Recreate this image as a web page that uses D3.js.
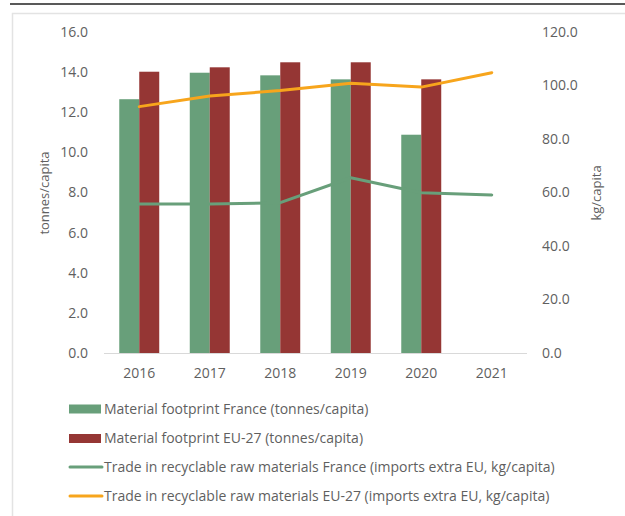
<!DOCTYPE html>
<html><head><meta charset="utf-8">
<script src="https://cdn.jsdelivr.net/npm/d3@7"></script>
<style>
body{margin:0;background:#fff;}
svg{display:block;font-family:"Open Sans",sans-serif;}
</style></head>
<body><svg id="c" width="625" height="516"></svg>
<script>
const years = ["2016","2017","2018","2019","2020","2021"];
const footprintFrance = [12.65, 13.97, 13.84, 13.64, 10.88, null];
const footprintEU = [14.02, 14.24, 14.49, 14.49, 13.64, null];
const tradeFrance = [55.7, 55.7, 56.2, 65.5, 59.9, 59.1];
const tradeEU = [92.1, 96.1, 98.1, 100.8, 99.4, 104.8];
const leftTicks = [0,2,4,6,8,10,12,14,16];
const rightTicks = [0,20,40,60,80,100,120];
const legendLabels = [
  "Material footprint France (tonnes/capita)",
  "Material footprint EU-27 (tonnes/capita)",
  "Trade in recyclable raw materials France (imports extra EU, kg/capita)",
  "Trade in recyclable raw materials EU-27 (imports extra EU, kg/capita)"
];

const GREEN = "#689f7a", RED = "#953634", ORANGE = "#f7a51c", TXT = "#5f5f5f";
const svg = d3.select("#c");

// header line & frame
svg.append("line").attr("x1",10).attr("x2",625).attr("y1",4).attr("y2",4).attr("stroke","#222").attr("stroke-width",1.5);
svg.append("path").attr("d","M12.5,516V13.5H625").attr("fill","none").attr("stroke","#e3e3e3").attr("stroke-width",1.5);

const x = d3.scaleBand().domain(years).range([104,527]).padding(0);
const bw = x.bandwidth();
const groupW = bw*0.567;
const x1 = d3.scaleBand().domain(["fr","eu"]).range([0,groupW]).padding(0);
const yL = d3.scaleLinear().domain([0,16]).range([353,32]);
const yR = d3.scaleLinear().domain([0,120]).range([353,32]);

// baseline
svg.append("line").attr("x1",104).attr("x2",527).attr("y1",353.5).attr("y2",353.5).attr("stroke","#d9d9d9").attr("stroke-width",1);

// bars
const barData = [];
years.forEach((y,i)=>{
  if(footprintFrance[i]!=null) barData.push({y, k:"fr", v:footprintFrance[i]});
  if(footprintEU[i]!=null) barData.push({y, k:"eu", v:footprintEU[i]});
});
svg.append("g").selectAll("rect").data(barData).join("rect")
  .attr("x",d=>x(d.y)+bw/2-groupW/2+x1(d.k))
  .attr("width",x1.bandwidth())
  .attr("y",d=>yL(d.v))
  .attr("height",d=>yL(0)-yL(d.v))
  .attr("fill",d=>d.k==="fr"?GREEN:RED);

// lines
const line = d3.line().x((d,i)=>x(years[i])+bw/2).y(d=>yR(d));
svg.append("path").datum(tradeFrance).attr("d",line).attr("fill","none").attr("stroke",GREEN).attr("stroke-width",3).attr("stroke-linejoin","round").attr("stroke-linecap","round");
svg.append("path").datum(tradeEU).attr("d",line).attr("fill","none").attr("stroke",ORANGE).attr("stroke-width",3).attr("stroke-linejoin","round").attr("stroke-linecap","round");

// axes
const fmt = d3.format(".1f");
const gl = svg.append("g").attr("transform","translate(104,0)")
  .call(d3.axisLeft(yL).tickValues(leftTicks).tickFormat(fmt).tickSize(0).tickPadding(16));
const gr = svg.append("g").attr("transform","translate(527,0)")
  .call(d3.axisRight(yR).tickValues(rightTicks).tickFormat(fmt).tickSize(0).tickPadding(15));
const gb = svg.append("g").attr("transform","translate(0,353)")
  .call(d3.axisBottom(x).tickSize(0).tickPadding(15));
[gl,gr,gb].forEach(g=>{
  g.select(".domain").remove();
  g.selectAll("text").attr("fill",TXT).style("font-size","14px").style("font-family","'Open Sans',sans-serif");
});

// axis titles
svg.append("text").attr("transform","translate(49,193) rotate(-90)").attr("text-anchor","middle")
  .attr("fill",TXT).style("font-size","13px").text("tonnes/capita");
svg.append("text").attr("transform","translate(601,193) rotate(-90)").attr("text-anchor","middle")
  .attr("fill",TXT).style("font-size","13px").text("kg/capita");

// legend
const rowsY = [409, 438.5, 467, 496];
const lg = svg.append("g");
legendLabels.forEach((lab,i)=>{
  const cy = rowsY[i];
  if(i<2){
    lg.append("rect").attr("x",69).attr("y",cy-4.5).attr("width",32).attr("height",9).attr("fill",i===0?GREEN:RED);
  } else {
    lg.append("line").attr("x1",70).attr("x2",102).attr("y1",cy).attr("y2",cy)
      .attr("stroke",i===2?GREEN:ORANGE).attr("stroke-width",3).attr("stroke-linecap","round");
  }
  lg.append("text").attr("x",104).attr("y",cy).attr("dy","0.35em").attr("fill",TXT)
    .style("font-size","14px").text(lab);
});
</script></body></html>
